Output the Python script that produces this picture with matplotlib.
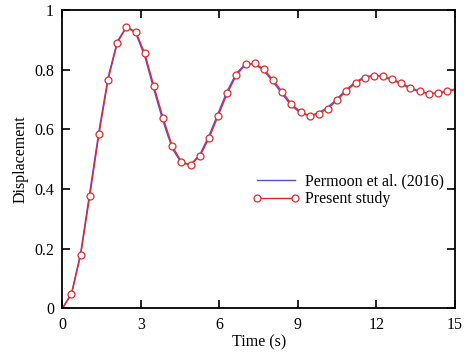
import numpy as np
import matplotlib
matplotlib.use('Agg')
import matplotlib.pyplot as plt

plt.rcParams['font.family'] = ['Liberation Serif', 'DejaVu Serif']
plt.rcParams['mathtext.fontset'] = 'stix'

# time samples (s)
t = [0.0, 0.35, 0.70, 1.05, 1.40, 1.75, 2.10, 2.45, 2.80, 3.15, 3.50,
     3.85, 4.20, 4.55, 4.90, 5.25, 5.60, 5.95, 6.30, 6.65, 7.00,
     7.35, 7.70, 8.05, 8.40, 8.75, 9.10, 9.45, 9.80, 10.15, 10.50,
     10.85, 11.20, 11.55, 11.90, 12.25, 12.60, 12.95, 13.30, 13.65, 14.00,
     14.35, 14.70, 15.0]

# Permoon et al. (2016)
disp_ref = [0.0, 0.050, 0.185, 0.390, 0.595, 0.775, 0.895, 0.944, 0.923, 0.845, 0.733,
            0.627, 0.536, 0.487, 0.482, 0.515, 0.578, 0.654, 0.729, 0.788, 0.820,
            0.819, 0.797, 0.759, 0.719, 0.679, 0.655, 0.645, 0.656, 0.675, 0.703,
            0.734, 0.759, 0.776, 0.781, 0.777, 0.766, 0.752, 0.736, 0.726, 0.720,
            0.722, 0.729, 0.735]

# Present study
disp_present = [0.0, 0.047, 0.178, 0.377, 0.584, 0.767, 0.890, 0.943, 0.928, 0.855, 0.744,
                0.638, 0.544, 0.491, 0.481, 0.510, 0.570, 0.645, 0.721, 0.782, 0.818,
                0.821, 0.802, 0.765, 0.726, 0.685, 0.659, 0.645, 0.653, 0.670, 0.698,
                0.729, 0.755, 0.773, 0.780, 0.778, 0.768, 0.755, 0.739, 0.728, 0.720,
                0.721, 0.728, 0.733]

fig = plt.figure(figsize=(4.65, 3.52), dpi=100)
ax = fig.add_axes([0.134, 0.124, 0.8445, 0.8474])

ax.plot(t, disp_ref, color='#5050e0', lw=1.0, label='Permoon et al. (2016)')
ax.plot(t, disp_present, color='#e02a2a', lw=1.0, marker='o', ms=5,
        mfc='white', mec='#e02a2a', mew=0.9, markevery=list(range(1, len(t) - 1)),
        label='Present study')

ax.set_xlim(0, 15)
ax.set_ylim(0, 1)
ax.set_xticks([0, 3, 6, 9, 12, 15])
ax.set_yticks([0, 0.2, 0.4, 0.6, 0.8, 1])
ax.set_yticklabels(['0', '0.2', '0.4', '0.6', '0.8', '1'])
ax.tick_params(direction='in', top=True, right=True, length=6, width=1.2,
               labelsize=11.5, pad=6)
for s in ax.spines.values():
    s.set_linewidth(1.3)

ax.set_xlabel('Time (s)', fontsize=11.5, labelpad=1)
ax.set_ylabel('Displacement', fontsize=11.5, labelpad=4)

ax.legend(loc='upper left', bbox_to_anchor=(0.447, 0.50), frameon=False,
          fontsize=11.5, handlelength=3.0, numpoints=2, handletextpad=0.3,
          labelspacing=0.1)

fig.savefig('out.png', dpi=100)
